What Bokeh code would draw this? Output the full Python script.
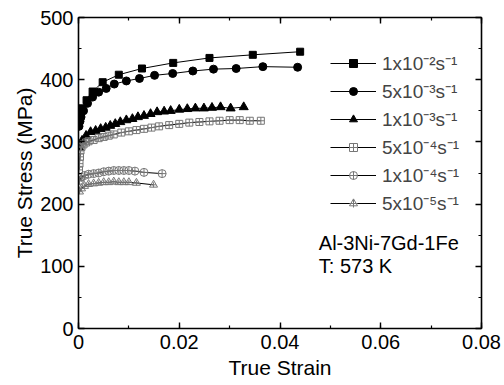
from bokeh.plotting import figure
from bokeh.models import (Range1d, LinearAxis, SingleIntervalTicker, Legend, LegendItem, Label,
                          CustomJSTickFormatter)
from bokeh.embed import file_html
from bokeh.resources import INLINE

# ---- data ----
strain_1e2 = [0.0001, 0.0002, 0.0004, 0.0008, 0.0016, 0.0028, 0.0048, 0.0080, 0.0126, 0.0188, 0.0260, 0.0346, 0.0440]
stress_1e2 = [330, 338, 346, 354, 367, 381, 396, 408, 418, 427, 435, 440, 445]

strain_5e3 = [0.0001, 0.0003, 0.0005, 0.0010, 0.0018, 0.0028, 0.0040, 0.0055, 0.0071, 0.0095, 0.0121, 0.0151, 0.0187, 0.0227, 0.0268, 0.0313, 0.0366, 0.0435]
stress_5e3 = [325, 333, 340, 350, 362, 372, 380, 386, 393, 398, 402, 407, 410, 414, 417, 418, 421, 420]

strain_1e3 = [0.0002, 0.0007, 0.0015, 0.0024, 0.0034, 0.0044, 0.0054, 0.0063, 0.0073, 0.0083, 0.0095, 0.0107,
              0.0118, 0.0130, 0.0143, 0.0156, 0.0170, 0.0183, 0.0200, 0.0216, 0.0232, 0.0249, 0.0265, 0.0282, 0.0302, 0.0328]
stress_1e3 = [290, 302, 310, 316, 318, 321, 323, 326, 329, 332, 335, 337,
              340, 342, 345, 348, 349, 350, 352, 353, 354, 354, 355, 356, 354, 356]

strain_5e4 = [0.0001, 0.0002, 0.0003, 0.0004, 0.0006, 0.0010, 0.0015, 0.0020, 0.0030, 0.0040, 0.0050, 0.0060, 0.0070,
              0.0085, 0.0100, 0.0115, 0.0130, 0.0145, 0.0160, 0.0180, 0.0200, 0.0220, 0.0240, 0.0260, 0.0280, 0.0300,
              0.0320, 0.0340, 0.0362]
stress_5e4 = [255, 265, 276, 286, 292, 296, 299, 301, 303, 306, 308, 310, 312,
              315, 317, 319, 321, 323, 325, 327, 329, 331, 332, 333, 334, 335,
              335, 334, 334]

strain_1e4 = [0.0002, 0.0006, 0.0012, 0.0020, 0.0030, 0.0040, 0.0050, 0.0060, 0.0070, 0.0080, 0.0090, 0.0100, 0.0112, 0.0130, 0.0166]
stress_1e4 = [238, 243, 246, 248, 249, 250, 252, 253, 254, 254, 254, 254, 253, 251, 249]

strain_5e5 = [0.0002, 0.0006, 0.0012, 0.0020, 0.0030, 0.0040, 0.0050, 0.0060, 0.0070, 0.0080, 0.0090, 0.0100, 0.0115, 0.0149]
stress_5e5 = [220, 225, 229, 232, 233, 234, 235, 235, 236, 235, 235, 235, 234, 231]

labels = ["1x10\u207b\u00b2s\u207b\u00b9", "5x10\u207b\u00b3s\u207b\u00b9", "1x10\u207b\u00b3s\u207b\u00b9",
          "5x10\u207b\u2074s\u207b\u00b9", "1x10\u207b\u2074s\u207b\u00b9", "5x10\u207b\u2075s\u207b\u00b9"]

FONT = "Liberation Sans"

p = figure(width=504, height=385, output_backend="svg", toolbar_location=None,
           x_range=Range1d(0, 0.08), y_range=Range1d(0, 500),
           min_border_left=78, min_border_right=23, min_border_top=17, min_border_bottom=57)
p.xgrid.visible = False
p.ygrid.visible = False
p.outline_line_color = None
p.background_fill_color = "white"


def style_axis(ax):
    ax.axis_line_width = 1.6
    ax.axis_line_color = "black"
    ax.major_tick_in = 6
    ax.major_tick_out = 0
    ax.minor_tick_in = 3
    ax.minor_tick_out = 0
    ax.major_tick_line_width = 1.4
    ax.minor_tick_line_width = 1.2
    ax.major_label_text_font = FONT
    ax.major_label_text_font_size = "20px"
    ax.major_label_text_color = "black"
    ax.axis_label_text_font = FONT
    ax.axis_label_text_font_size = "21px"
    ax.axis_label_text_font_style = "normal"
    ax.axis_label_text_color = "black"


p.xaxis.ticker = SingleIntervalTicker(interval=0.02, num_minor_ticks=2)
p.yaxis.ticker = SingleIntervalTicker(interval=100, num_minor_ticks=2)
p.xaxis.formatter.use_scientific = False
style_axis(p.xaxis[0])
style_axis(p.yaxis[0])
p.xaxis.axis_label = "True Strain"
p.yaxis.axis_label = "True Stress (MPa)"
p.xaxis.major_label_standoff = 6
p.yaxis.major_label_standoff = 5
p.xaxis.axis_label_standoff = 4
p.yaxis.axis_label_standoff = 1

top = LinearAxis(ticker=SingleIntervalTicker(interval=0.02, num_minor_ticks=2),
                 formatter=CustomJSTickFormatter(code="return '';"))
style_axis(top)
top.major_label_standoff = 0
top.major_label_text_font_size = "8px"
p.add_layout(top, "above")
right = LinearAxis(ticker=SingleIntervalTicker(interval=100, num_minor_ticks=2),
                   formatter=CustomJSTickFormatter(code="return '';"))
style_axis(right)
right.major_label_standoff = 0
right.major_label_text_font_size = "8px"
p.add_layout(right, "right")

series = [
    (strain_1e2, stress_1e2, "square", 7, "black", "black"),
    (strain_5e3, stress_5e3, "circle", 8, "black", "black"),
    (strain_1e3, stress_1e3, "triangle", 9, "black", "black"),
    (strain_5e4, stress_5e4, "square_cross", 7, "#777777", None),
    (strain_1e4, stress_1e4, "circle_cross", 8, "#777777", None),
    (strain_5e5, stress_5e5, "triangle", 8, "#777777", None),
]

items = []
for (xs, ys, mk, sz, lc, fc), lab in zip(series, labels):
    ln = p.line(xs, ys, line_color="black", line_width=1)
    sc = p.scatter(xs, ys, marker=mk, size=sz, line_color=lc,
                   fill_color=fc if fc else "white", fill_alpha=1.0 if fc else 0.0, line_width=1)
    rs = [ln, sc]
    if mk == "triangle" and fc is None:
        cr = p.scatter(xs, ys, marker="cross", size=5, line_color=lc, line_width=1)
        rs.append(cr)
    items.append(LegendItem(label=lab, renderers=rs))

legend = Legend(items=items, location=(252, 112), orientation="vertical",
                glyph_width=46, glyph_height=20, label_height=20, spacing=2,
                padding=0, margin=0, label_standoff=6,
                label_text_font=FONT, label_text_font_size="19px",
                border_line_color=None, background_fill_alpha=0.0)
p.add_layout(legend, "center")

p.add_layout(Label(x=0.0477, y=137, text="Al-3Ni-7Gd-1Fe", text_font=FONT,
                   text_font_size="20px", text_baseline="middle", text_color="black"))
p.add_layout(Label(x=0.0477, y=100, text="T: 573 K", text_font=FONT,
                   text_font_size="20px", text_baseline="middle", text_color="black"))

open("out.html", "w").write(file_html(p, INLINE))
